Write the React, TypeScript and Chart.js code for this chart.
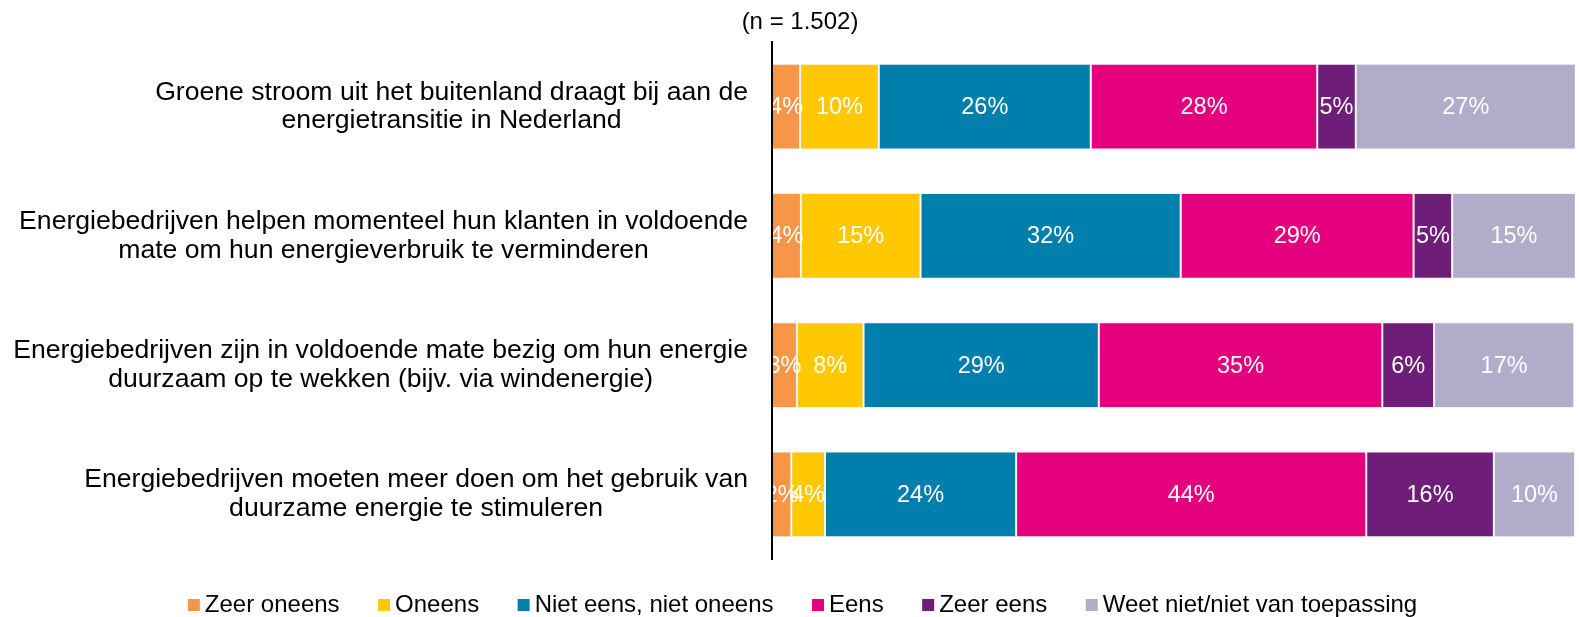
import React, { useEffect, useRef } from "react";
import { Chart, registerables } from "chart.js";

Chart.register(...registerables);

const FONT = '"Liberation Sans", Arial, Helvetica, sans-serif';

const categories: string[][] = [
  ["Groene stroom uit het buitenland draagt bij aan de", "energietransitie in Nederland"],
  ["Energiebedrijven helpen momenteel hun klanten in voldoende", "mate om hun energieverbruik te verminderen"],
  ["Energiebedrijven zijn in voldoende mate bezig om hun energie", "duurzaam op te wekken (bijv. via windenergie)"],
  ["Energiebedrijven moeten meer doen om het gebruik van", "duurzame energie te stimuleren"],
];

const seriesNames = [
  "Zeer oneens",
  "Oneens",
  "Niet eens, niet oneens",
  "Eens",
  "Zeer eens",
  "Weet niet/niet van toepassing",
];

const zeerOneens = [3.5, 3.6, 3.1, 2.4];
const oneens = [9.8, 14.9, 8.3, 4.2];
const nietEensNietOneens = [26.4, 32.4, 29.3, 23.8];
const eens = [28.2, 29.0, 35.3, 43.6];
const zeerEens = [4.8, 4.8, 6.45, 15.9];
const weetNiet = [27.4, 15.4, 17.45, 10.1];

const seriesColors = ["#F79646", "#FFC800", "#007FAD", "#E5007E", "#6E1E78", "#B1ACCA"];

const sampleNote = "(n = 1.502)";

const seriesValues = [zeerOneens, oneens, nietEensNietOneens, eens, zeerEens, weetNiet];

const customDraw = {
  id: "customDraw",
  afterDatasetsDraw(chart: any) {
    const ctx = chart.ctx;
    ctx.save();
    ctx.font = `23.5px ${FONT}`;
    ctx.fillStyle = "#FFFFFF";
    ctx.textAlign = "center";
    ctx.textBaseline = "middle";
    chart.data.datasets.forEach((ds: any, di: number) => {
      const meta = chart.getDatasetMeta(di);
      meta.data.forEach((el: any, i: number) => {
        const v = ds.data[i];
        const cx = (el.x + el.base) / 2;
        ctx.fillText(Math.round(v) + "%", cx, el.y + 1);
      });
    });
    ctx.restore();
  },
  afterDraw(chart: any) {
    const ctx = chart.ctx;
    const area = chart.chartArea;
    const yScale = chart.scales.y;
    ctx.save();
    // category labels
    ctx.font = `26.6px ${FONT}`;
    ctx.fillStyle = "#000000";
    ctx.textAlign = "center";
    ctx.textBaseline = "middle";
    const rightEdge = area.left - 24;
    const lineH = 28.8;
    categories.forEach((lines, i) => {
      const y = yScale.getPixelForValue(i);
      const widest = Math.max(...lines.map((l) => ctx.measureText(l).width));
      const cx = rightEdge - widest / 2;
      lines.forEach((l, j) => {
        ctx.fillText(l, cx, y + (j - (lines.length - 1) / 2) * lineH);
      });
    });
    // note
    ctx.font = `24px ${FONT}`;
    ctx.textAlign = "center";
    ctx.fillText(sampleNote, area.left + 28, 22);
    // legend
    ctx.font = `24px ${FONT}`;
    ctx.textAlign = "left";
    const box = 12;
    const gap = 5;
    const itemGap = 38.5;
    const widths = seriesNames.map((n) => ctx.measureText(n).width);
    const total = widths.reduce((a, w) => a + box + gap + w, 0) + itemGap * (seriesNames.length - 1);
    let x = chart.width / 2 + 13 - total / 2;
    const ly = 605;
    seriesNames.forEach((n, i) => {
      ctx.fillStyle = seriesColors[i];
      ctx.fillRect(x, ly - box / 2, box, box);
      ctx.fillStyle = "#000000";
      ctx.fillText(n, x + box + gap, ly);
      x += box + gap + widths[i] + itemGap;
    });
    ctx.restore();
  },
};

export default function App() {
  const canvasRef = useRef<HTMLCanvasElement | null>(null);

  useEffect(() => {
    if (!canvasRef.current) return;
    const chart = new Chart(canvasRef.current, {
      type: "bar",
      data: {
        labels: categories.map((c) => c.join(" ")),
        datasets: seriesNames.map((name, i) => ({
          label: name,
          data: seriesValues[i],
          backgroundColor: seriesColors[i],
          borderColor: "rgba(235,235,240,0.6)",
          borderWidth: 1,
          borderSkipped: false,
          barPercentage: 0.664,
          categoryPercentage: 1,
        })),
      },
      options: {
        indexAxis: "y",
        animation: false,
        responsive: true,
        maintainAspectRatio: false,
        layout: { padding: { top: 42, bottom: 58, left: 0, right: 4 } },
        plugins: {
          legend: { display: false },
          title: { display: false },
          tooltip: { enabled: false },
        },
        scales: {
          x: {
            stacked: true,
            min: 0,
            max: 100,
            display: false,
          },
          y: {
            stacked: true,
            ticks: { display: false },
            grid: { display: false },
            border: { display: true, color: "#000000", width: 2, z: 1 },
            afterFit: (scale: any) => {
              scale.width = 772;
            },
          },
        },
      },
      plugins: [customDraw],
    });
    return () => chart.destroy();
  }, []);

  return (
    <div style={{ position: "absolute", left: 0, top: 0, width: 1579, height: 617, background: "#FFFFFF" }}>
      <canvas ref={canvasRef} />
    </div>
  );
}
